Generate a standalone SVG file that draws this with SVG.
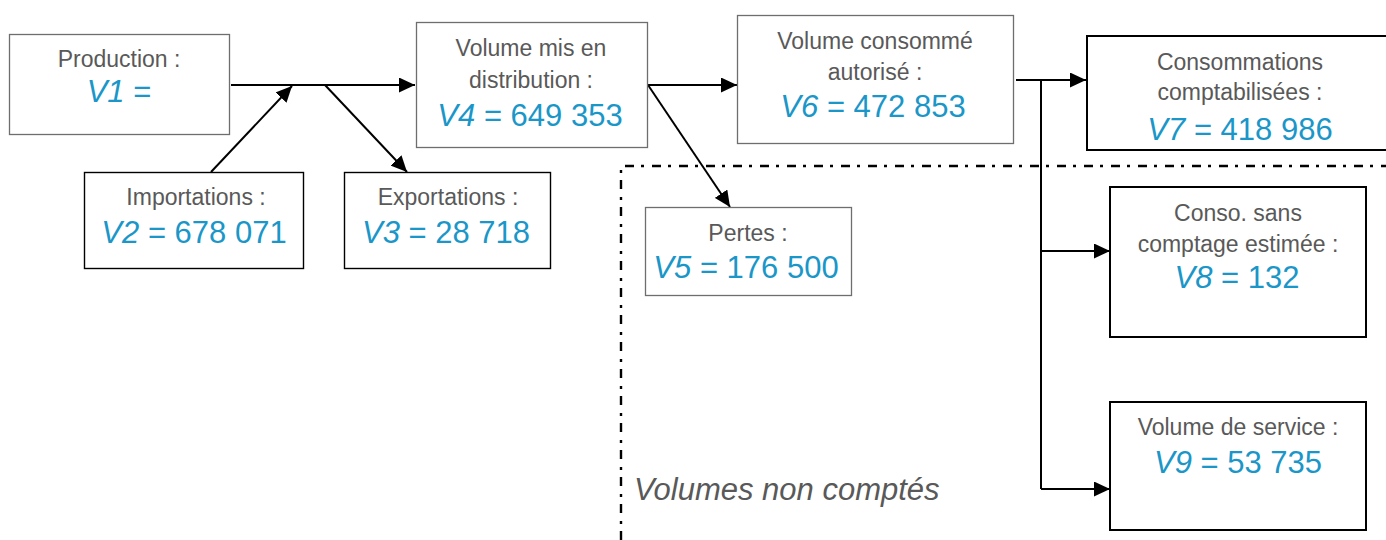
<svg xmlns="http://www.w3.org/2000/svg" width="1386" height="540" viewBox="0 0 1386 540">
<style>
.bg{fill:#ffffff}
.box{fill:#ffffff}
.g{stroke:#6e6e6e;stroke-width:1.3}
.k{stroke:#000000;stroke-width:1.4}
.kk{stroke:#000000;stroke-width:2}
.lbl{font-family:"Liberation Sans",Arial,sans-serif;font-size:23px;fill:#595959;text-anchor:middle}
.val{font-family:"Liberation Sans",Arial,sans-serif;font-size:31px;fill:#1a96c8;text-anchor:middle}
.it{font-style:italic}
.con{stroke:#000000;stroke-width:2;fill:none}
.zone{stroke:#000000;stroke-width:2.4;fill:none;stroke-dasharray:9 7 3 8}
.note{font-family:"Liberation Sans",Arial,sans-serif;font-size:31px;font-style:italic;fill:#595959}
</style>
<defs>
<marker id="arr" markerUnits="userSpaceOnUse" markerWidth="17" markerHeight="15" refX="16" refY="7.5" orient="auto">
<path d="M0,0 L16,7.5 L0,15 z" fill="#000000"/>
</marker>
</defs>
<rect class="bg" x="0" y="0" width="1386" height="540"/>

<g id="zone">
<path class="zone" d="M621,540 V166 H1386"/>
<text class="note" x="634" y="500">Volumes non comptés</text>
</g>

<g id="connectors">
<path class="con" d="M231,85 H415" marker-end="url(#arr)"/>
<path class="con" d="M211,172 L292,86" marker-end="url(#arr)"/>
<path class="con" d="M325,85 L407,172" marker-end="url(#arr)"/>
<path class="con" d="M648,85 H737" marker-end="url(#arr)"/>
<path class="con" d="M648,85 L730,207" marker-end="url(#arr)"/>
<path class="con" d="M1016,80 H1086" marker-end="url(#arr)"/>
<path class="con" d="M1041,80 V489"/>
<path class="con" d="M1041,251 H1110" marker-end="url(#arr)"/>
<path class="con" d="M1041,489 H1110" marker-end="url(#arr)"/>
</g>

<g id="production">
<rect class="box g" x="9.5" y="34.5" width="220" height="100"/>
<text class="lbl" x="119" y="67">Production :</text>
<text class="val" x="119" y="102"><tspan class="it">V1</tspan> =</text>
</g>

<g id="importations">
<rect class="box k" x="84.5" y="172.5" width="219" height="96"/>
<text class="lbl" x="196" y="205">Importations :</text>
<text class="val" x="194" y="243"><tspan class="it">V2</tspan> = 678 071</text>
</g>

<g id="exportations">
<rect class="box k" x="344.5" y="172.5" width="206" height="96"/>
<text class="lbl" x="448" y="205">Exportations :</text>
<text class="val" x="446" y="243"><tspan class="it">V3</tspan> = 28 718</text>
</g>

<g id="distribution">
<rect class="box g" x="416.5" y="22.5" width="231" height="125"/>
<text class="lbl" x="531" y="56">Volume mis en</text>
<text class="lbl" x="531" y="88">distribution :</text>
<text class="val" x="530" y="126"><tspan class="it">V4</tspan> = 649 353</text>
</g>

<g id="consomme">
<rect class="box g" x="737.5" y="15.5" width="276" height="128"/>
<text class="lbl" x="875" y="49">Volume consommé</text>
<text class="lbl" x="875" y="80">autorisé :</text>
<text class="val" x="873" y="117"><tspan class="it">V6</tspan> = 472 853</text>
</g>

<g id="comptabilisees">
<rect class="box kk" x="1087" y="36" width="320" height="114"/>
<text class="lbl" x="1240" y="70">Consommations</text>
<text class="lbl" x="1240" y="100">comptabilisées :</text>
<text class="val" x="1240" y="140"><tspan class="it">V7</tspan> = 418 986</text>
</g>

<g id="pertes">
<rect class="box g" x="645.5" y="207.5" width="206" height="88"/>
<text class="lbl" x="748" y="241">Pertes :</text>
<text class="val" x="746" y="278"><tspan class="it">V5</tspan> = 176 500</text>
</g>

<g id="sans-comptage">
<rect class="box kk" x="1110" y="187" width="256" height="150"/>
<text class="lbl" x="1238" y="221">Conso. sans</text>
<text class="lbl" x="1238" y="252">comptage estimée :</text>
<text class="val" x="1237" y="288"><tspan class="it">V8</tspan> = 132</text>
</g>

<g id="service">
<rect class="box kk" x="1110" y="402" width="256" height="128"/>
<text class="lbl" x="1238" y="435">Volume de service :</text>
<text class="val" x="1238" y="473"><tspan class="it">V9</tspan> = 53 735</text>
</g>
</svg>
